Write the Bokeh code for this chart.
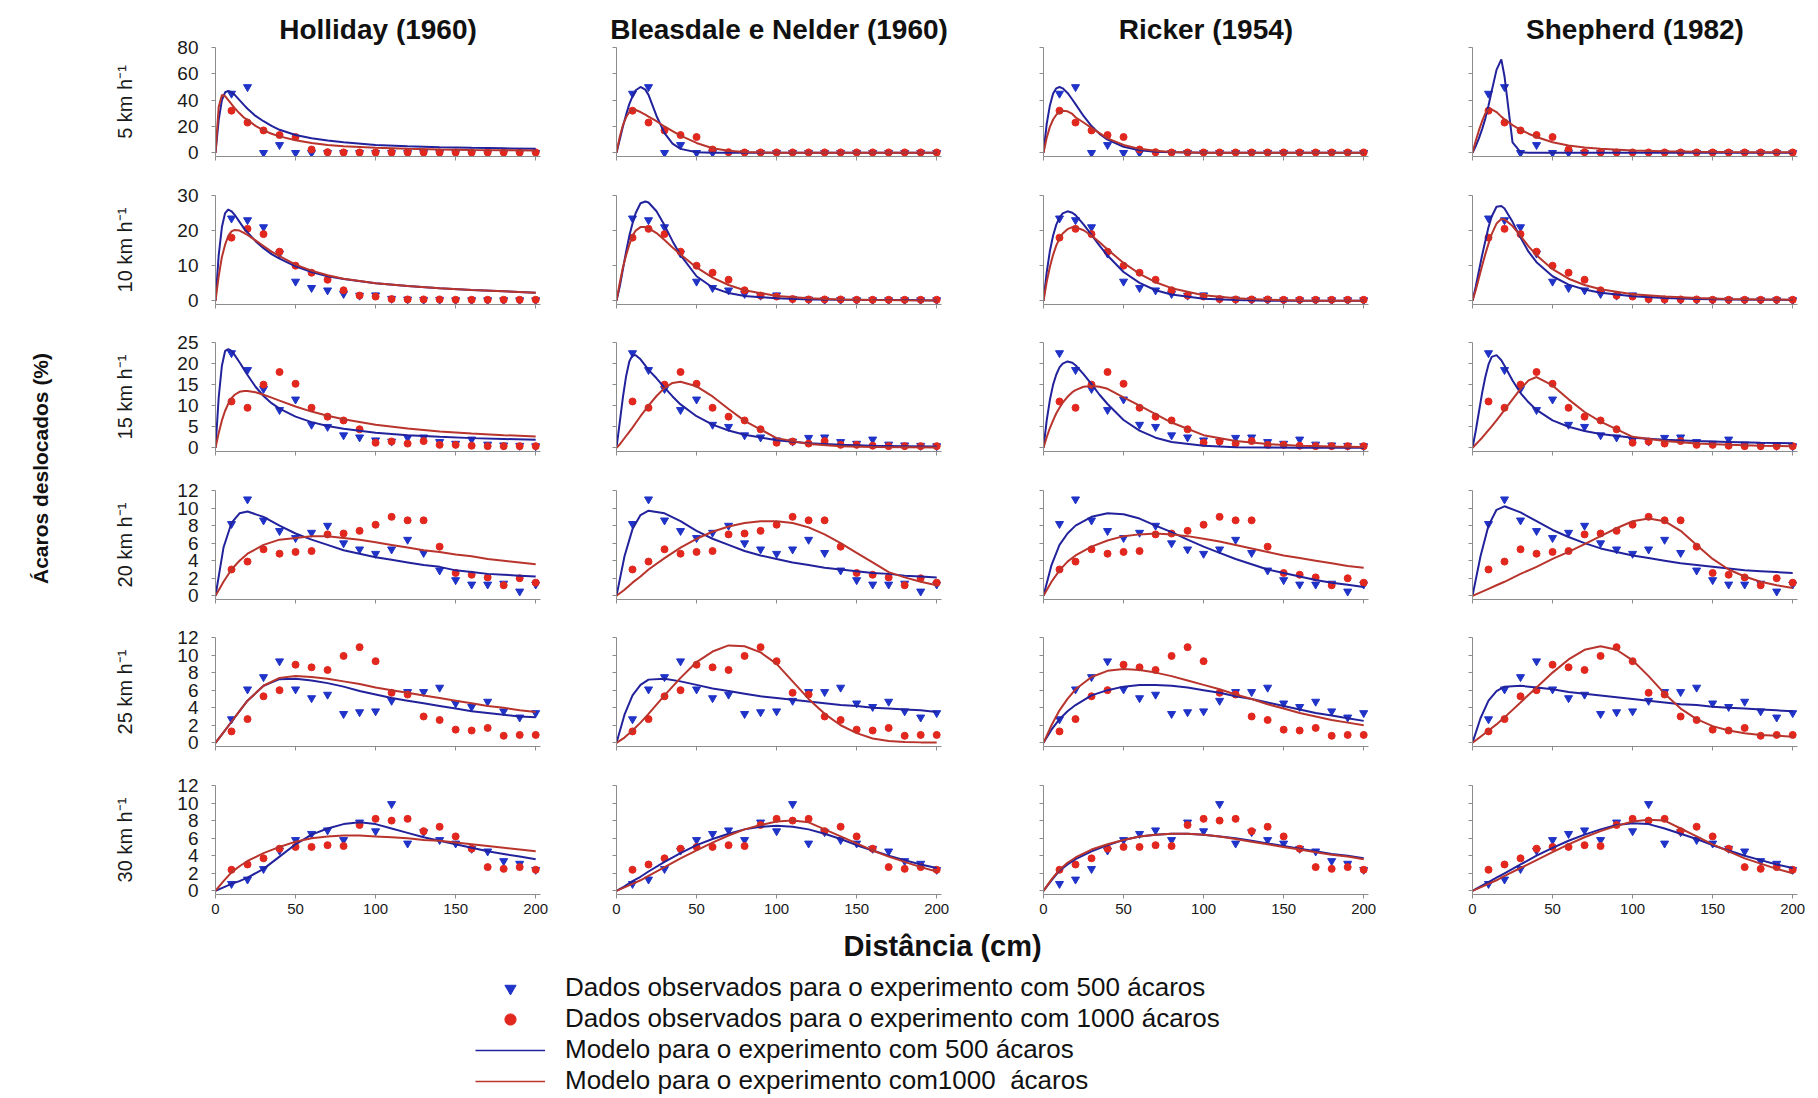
from math import pi
from bokeh.plotting import figure
from bokeh.layouts import row, column
from bokeh.models import FixedTicker, Label, Legend, LegendItem, Range1d
from bokeh.embed import file_html
from bokeh.resources import INLINE

# ---------------- data ----------------
models = ["Holliday (1960)", "Bleasdale e Nelder (1960)", "Ricker (1954)", "Shepherd (1982)"]
speeds = ["5 km h⁻¹", "10 km h⁻¹", "15 km h⁻¹", "20 km h⁻¹", "25 km h⁻¹", "30 km h⁻¹"]
y_max = [80, 30, 25, 12, 12, 12]
y_ticks_5 = [0, 20, 40, 60, 80]
y_ticks_10 = [0, 10, 20, 30]
y_ticks_15 = [0, 5, 10, 15, 20, 25]
y_ticks_12 = [0, 2, 4, 6, 8, 10, 12]
x_ticks = [0, 50, 100, 150, 200]

x_obs = [10, 20, 30, 40, 50, 60, 70, 80, 90, 100, 110, 120, 130, 140, 150, 160, 170, 180, 190, 200]
obs500_5 = [45, 50, 0, 6, 0, 0, 0, 0, 0, 0, 0, 0, 0, 0, 0, 0, 0, 0, 0, 0]
obs1000_5 = [32, 23, 17, 13.5, 12, 2.5, 0.5, 0.3, 0.3, 0.3, 0.3, 0.3, 0.3, 0.3, 0.3, 0.3, 0.3, 0.3, 0.3, 0.3]
obs500_10 = [23.5, 23, 21, 13.5, 5.5, 3.7, 3, 2, 1.5, 1.6, 0.6, 0.4, 0.3, 0.3, 0.2, 0.2, 0.2, 0.2, 0.2, 0.2]
obs1000_10 = [18, 20.5, 19, 14, 10, 8, 6, 3, 1.5, 1.2, 0.5, 0.4, 0.4, 0.4, 0.3, 0.3, 0.3, 0.3, 0.3, 0.3]
obs500_15 = [22.5, 18.5, 14, 9, 11.5, 5.5, 5, 3, 2.5, 1.8, 1.5, 2.4, 2.5, 1.4, 1.0, 2.0, 0.8, 0.6, 0.5, 0.4]
obs1000_15 = [11, 9.5, 15, 18, 15.2, 9.5, 7.4, 6.5, 4.4, 1.2, 1.5, 1.0, 1.6, 0.7, 0.7, 0.5, 0.4, 0.4, 0.4, 0.4]
obs500_20 = [8.2, 11, 8.6, 7.4, 6.6, 7.2, 8.0, 6.0, 5.3, 4.8, 5.3, 6.4, 4.9, 2.9, 1.8, 1.3, 1.3, 1.4, 0.5, 1.3]
obs1000_20 = [3.0, 3.9, 5.3, 4.8, 5.0, 5.1, 7.0, 7.1, 7.4, 8.1, 9.0, 8.6, 8.6, 5.6, 2.6, 2.4, 2.1, 1.2, 2.0, 1.5]
obs500_25 = [2.7, 6.1, 7.5, 9.3, 6.1, 5.1, 5.5, 3.3, 3.5, 3.6, 4.8, 5.8, 5.8, 6.3, 4.5, 4.1, 4.7, 3.6, 2.9, 3.4]
obs1000_25 = [1.3, 2.7, 5.3, 6.0, 8.9, 8.6, 8.3, 9.9, 10.9, 9.3, 5.7, 5.5, 3.0, 2.6, 1.5, 1.4, 1.7, 0.8, 0.9, 0.9]
obs500_30 = [0.8, 1.3, 2.5, 4.6, 5.8, 6.5, 6.9, 5.8, 7.8, 6.8, 9.9, 5.4, 6.7, 5.8, 5.4, 4.8, 4.5, 3.4, 3.1, 2.4]
obs1000_30 = [2.4, 3.0, 3.7, 4.8, 5.0, 5.0, 5.2, 5.1, 7.5, 8.2, 8.0, 8.2, 6.8, 7.3, 6.2, 4.8, 2.7, 2.5, 2.7, 2.4]

# model curves (order: Holliday, Bleasdale-Nelder, Ricker, Shepherd)
xc_fine = [0, 2, 4, 6, 8, 10, 12, 15, 18, 20, 25, 30, 35, 40, 50, 60, 70, 80, 100, 120, 140, 160, 180, 200]
xc_broad = [0, 5, 10, 15, 20, 30, 40, 50, 60, 70, 80, 90, 100, 110, 120, 130, 140, 150, 160, 170, 180, 190, 200]

fit500_5 = [
    [0, 25, 40, 46, 47, 46, 44, 40, 36, 33.5, 28, 24, 20.5, 17.5, 13.5, 11, 9.3, 8, 6, 5, 4.3, 3.8, 3.4, 3],
    [0, 10, 20, 29, 37, 43, 47.5, 50, 48, 44, 28, 15, 7, 3, 0.5, 0.1, 0, 0, 0, 0, 0, 0, 0, 0],
    [0, 22, 36, 45, 49, 50, 49, 45.5, 40.5, 37, 28, 20.3, 14.4, 10, 4.6, 2, 0.9, 0.4, 0.1, 0, 0, 0, 0, 0],
    [0, 5, 11, 18, 26, 36, 47, 63, 71, 58, 8, 0.5, 0, 0, 0, 0, 0, 0, 0, 0, 0, 0, 0, 0],
]
fit1000_5 = [
    [0, 35, 44, 43, 40, 37, 34, 30, 26.5, 25, 20.5, 17, 14.5, 12.5, 9.5, 7.5, 6, 5, 3.8, 3, 2.5, 2.1, 1.9, 1.7],
    [0, 12, 21, 27, 31, 32.5, 32.5, 31, 29, 27.5, 24, 20, 16.5, 13, 7.5, 3.5, 1.5, 0.6, 0.1, 0, 0, 0, 0, 0],
    [0, 11.5, 19.7, 25.3, 28.9, 31, 31.9, 31.5, 29.5, 27, 23, 19, 15, 11, 6, 3, 1.5, 0.7, 0.1, 0, 0, 0, 0, 0],
    [0, 9, 17, 24, 30, 33, 33, 31, 27.5, 25.5, 21, 17.5, 14.5, 12, 8, 5.5, 4, 3, 1.7, 1.1, 0.8, 0.6, 0.5, 0.4],
]
fit500_10 = [
    [0, 13, 21, 25, 26, 25.5, 24.5, 22.5, 20.5, 19.5, 17, 15, 13.3, 12, 9.8, 8.2, 7, 6.2, 5, 4.2, 3.6, 3.1, 2.7, 2.3],
    [0, 4, 9, 14, 18.5, 22, 25, 27.8, 28.3, 28, 25.5, 21.5, 17, 13, 7, 3.8, 2.2, 1.4, 0.7, 0.4, 0.3, 0.2, 0.2, 0.1],
    [0, 8.1, 14.2, 18.6, 21.7, 23.7, 24.9, 25.5, 25.1, 24.4, 21.8, 18.8, 15.7, 12.9, 8.2, 5.1, 3, 1.8, 0.6, 0.2, 0.05, 0, 0, 0],
    [0, 4, 8.5, 13, 17, 21, 24, 26.8, 27, 26.3, 22.5, 18, 14, 11, 7, 4.6, 3.2, 2.3, 1.3, 0.8, 0.55, 0.4, 0.3, 0.25],
]
fit1000_10 = [
    [0, 7, 12.5, 16, 18.5, 19.8, 20.2, 20, 19.3, 18.8, 17.2, 15.6, 14, 12.7, 10.3, 8.6, 7.3, 6.3, 5, 4.2, 3.6, 3.1, 2.7, 2.3],
    [0, 5, 9.5, 13, 16, 18.5, 20, 21, 21, 20.7, 19.3, 17.3, 15.2, 13.2, 9.5, 6.6, 4.5, 3, 1.4, 0.7, 0.4, 0.25, 0.15, 0.1],
    [0, 5.4, 9.7, 13.1, 15.8, 17.7, 19.2, 20.4, 21, 21, 20.1, 18.6, 16.7, 14.6, 10.8, 7.7, 5.3, 3.6, 1.6, 0.7, 0.3, 0.1, 0.04, 0],
    [0, 3, 6.5, 10, 13.3, 16.3, 19, 22, 23.3, 23.2, 21.3, 18.5, 15.5, 13, 9, 6.3, 4.5, 3.3, 1.9, 1.2, 0.8, 0.55, 0.4, 0.3],
]
fit500_15 = [
    [0, 12, 19.5, 23, 23.4, 23, 22, 20.3, 18.5, 17.3, 14.5, 12.3, 10.6, 9.3, 7.4, 6.1, 5.2, 4.5, 3.6, 3, 2.6, 2.3, 2.1, 1.9],
    [0, 6, 12, 17, 20.5, 22, 22, 21, 19.5, 18.5, 16.5, 14.3, 12.2, 10.3, 7.5, 5.5, 4.1, 3.1, 1.8, 1.1, 0.7, 0.5, 0.4, 0.3],
    [0, 6.5, 11.4, 15, 17.4, 19.1, 20, 20.5, 20.2, 19.6, 17.5, 15.1, 12.6, 10.4, 6.6, 4.1, 2.4, 1.4, 0.5, 0.15, 0.05, 0, 0, 0],
    [0, 4, 8.5, 13, 16.8, 19.8, 21.6, 22, 20.8, 19.5, 16, 13, 10.8, 9, 6.5, 5, 4, 3.3, 2.4, 1.9, 1.6, 1.4, 1.2, 1.1],
]
fit1000_15 = [
    [0, 3.5, 6.5, 8.8, 10.5, 11.8, 12.6, 13.3, 13.5, 13.5, 13.2, 12.6, 11.9, 11.2, 9.8, 8.6, 7.6, 6.8, 5.5, 4.6, 3.9, 3.4, 3, 2.7],
    [0, 0.8, 1.8, 2.8, 3.8, 4.8, 5.9, 7.5, 9, 10, 12.3, 14.2, 15.4, 15.7, 14.6, 12.2, 9.2, 6.4, 2.3, 0.9, 0.4, 0.2, 0.15, 0.1],
    [0, 2.5, 4.7, 6.5, 8.2, 9.5, 10.7, 12.1, 13.2, 13.7, 14.5, 14.7, 14.5, 14, 12, 10, 8, 6, 3, 1.6, 0.9, 0.5, 0.3, 0.2],
    [0, 0.8, 1.6, 2.4, 3.3, 4.2, 5.1, 6.5, 8, 9, 11.5, 14, 16, 16.8, 14.8, 11.5, 8.5, 6.2, 2.6, 1.6, 1, 0.7, 0.5, 0.4],
]
fit500_20 = [
    [0, 5.5, 8.3, 9.4, 9.6, 9.0, 8.0, 7.1, 6.4, 5.8, 5.2, 4.8, 4.4, 4.1, 3.8, 3.5, 3.3, 2.9, 2.7, 2.5, 2.4, 2.3, 2.2],
    [0, 4.5, 7.6, 9.2, 9.7, 9.4, 8.5, 7.4, 6.5, 5.8, 5.1, 4.6, 4.2, 3.8, 3.5, 3.2, 3.0, 2.8, 2.6, 2.5, 2.3, 2.2, 2.1],
    [0, 3.5, 5.8, 7.1, 8.0, 9.0, 9.4, 9.3, 8.8, 8.0, 7.25, 6.4, 5.6, 4.9, 4.2, 3.6, 3.0, 2.6, 2.2, 1.8, 1.5, 1.25, 1.0],
    [0, 4.5, 8, 9.8, 10.2, 9.5, 8.5, 7.5, 6.7, 6.0, 5.4, 5.0, 4.6, 4.3, 4.0, 3.7, 3.5, 3.3, 3.1, 2.9, 2.8, 2.7, 2.6],
]
fit1000_20 = [
    [0, 1.6, 3.0, 4.0, 4.8, 5.8, 6.4, 6.6, 6.8, 6.8, 6.6, 6.4, 6.1, 5.8, 5.5, 5.2, 5.0, 4.7, 4.5, 4.2, 4.0, 3.8, 3.6],
    [0, 0.7, 1.5, 2.2, 3.0, 4.3, 5.5, 6.5, 7.3, 7.9, 8.3, 8.5, 8.5, 8.3, 7.8, 7.0, 6.0, 4.9, 3.8, 2.7, 2.1, 1.6, 1.2],
    [0, 1.6, 2.9, 3.9, 4.6, 5.6, 6.3, 6.8, 7.0, 7.1, 7.0, 6.8, 6.5, 6.2, 5.8, 5.4, 5.0, 4.6, 4.3, 4.0, 3.7, 3.4, 3.2],
    [0, 0.4, 0.8, 1.2, 1.6, 2.5, 3.3, 4.2, 5.0, 5.9, 6.8, 7.7, 8.5, 8.8, 8.5, 7.4, 5.8, 4.2, 3.0, 2.2, 1.6, 1.2, 0.9],
]
fit500_25 = [
    [0, 1.2, 2.4, 3.6, 4.8, 6.5, 7.25, 7.3, 7.1, 6.8, 6.4, 5.9, 5.5, 5.1, 4.8, 4.5, 4.2, 3.9, 3.6, 3.4, 3.2, 3.0, 2.9],
    [0, 3.2, 5.4, 6.6, 7.2, 7.3, 7.0, 6.6, 6.2, 5.9, 5.6, 5.3, 5.1, 4.9, 4.7, 4.5, 4.3, 4.2, 4.0, 3.9, 3.8, 3.7, 3.5],
    [0, 1.5, 2.7, 3.6, 4.3, 5.4, 6.0, 6.4, 6.6, 6.6, 6.5, 6.3, 6.0, 5.7, 5.3, 5.0, 4.6, 4.2, 3.8, 3.4, 3.1, 2.8, 2.5],
    [0, 2.8, 4.8, 5.9, 6.4, 6.5, 6.3, 6.1, 5.8, 5.6, 5.4, 5.2, 5.0, 4.8, 4.6, 4.4, 4.3, 4.1, 4.0, 3.9, 3.8, 3.7, 3.6],
]
fit1000_25 = [
    [0, 1.2, 2.4, 3.6, 4.8, 6.5, 7.4, 7.6, 7.5, 7.3, 7.0, 6.7, 6.3, 6.0, 5.7, 5.4, 5.1, 4.8, 4.5, 4.2, 4.0, 3.7, 3.5],
    [0, 0.6, 1.4, 2.3, 3.3, 5.4, 7.4, 9.2, 10.4, 11.1, 11.0, 10.3, 9.0, 7.0, 5.0, 3.3, 2.0, 1.1, 0.5, 0.2, 0.1, 0.05, 0.03],
    [0, 2.0, 3.7, 5.0, 6.1, 7.5, 8.2, 8.4, 8.3, 8.0, 7.6, 7.1, 6.6, 6.1, 5.5, 5.0, 4.4, 3.9, 3.4, 3.0, 2.6, 2.3, 2.0],
    [0, 0.7, 1.4, 2.1, 2.9, 4.6, 6.3, 8.0, 9.5, 10.6, 11.0, 10.6, 9.4, 7.6, 5.6, 3.9, 2.7, 1.9, 1.4, 1.1, 0.9, 0.8, 0.7],
]
fit500_30 = [
    [0, 0.4, 0.8, 1.1, 1.5, 2.5, 3.9, 5.3, 6.4, 7.1, 7.6, 7.8, 7.6, 7.1, 6.6, 6.1, 5.7, 5.3, 4.9, 4.5, 4.2, 3.9, 3.6],
    [0, 0.5, 1.1, 1.6, 2.2, 3.3, 4.3, 5.2, 5.9, 6.5, 7.0, 7.3, 7.4, 7.3, 7.0, 6.5, 5.9, 5.2, 4.6, 4.0, 3.5, 3.0, 2.6],
    [0, 1.2, 2.3, 3.0, 3.6, 4.5, 5.2, 5.8, 6.2, 6.4, 6.5, 6.5, 6.4, 6.2, 6.0, 5.7, 5.4, 5.1, 4.8, 4.5, 4.2, 4.0, 3.7],
    [0, 0.5, 1.0, 1.5, 2.0, 3.0, 4.0, 4.9, 5.7, 6.4, 7.0, 7.5, 7.7, 7.6, 7.1, 6.5, 5.9, 5.2, 4.6, 4.0, 3.5, 3.0, 2.6],
]
fit1000_30 = [
    [0, 1.1, 2.1, 2.8, 3.4, 4.3, 5.0, 5.6, 6.0, 6.2, 6.3, 6.3, 6.2, 6.1, 6.0, 5.8, 5.7, 5.5, 5.3, 5.1, 4.9, 4.7, 4.5],
    [0, 0.4, 0.8, 1.2, 1.7, 2.7, 3.7, 4.6, 5.5, 6.3, 7.0, 7.5, 7.9, 8.0, 7.8, 7.0, 6.2, 5.4, 4.6, 3.9, 3.3, 2.7, 2.2],
    [0, 1.3, 2.4, 3.2, 3.8, 4.7, 5.3, 5.8, 6.2, 6.4, 6.5, 6.5, 6.4, 6.2, 5.9, 5.6, 5.3, 5.0, 4.7, 4.4, 4.1, 3.9, 3.6],
    [0, 0.4, 0.8, 1.2, 1.7, 2.6, 3.5, 4.4, 5.3, 6.1, 6.8, 7.4, 7.9, 8.1, 8.0, 7.1, 6.2, 5.3, 4.5, 3.7, 3.1, 2.5, 2.0],
]

legend_labels = [
    "Dados observados para o experimento com 500 ácaros",
    "Dados observados para o experimento com 1000 ácaros",
    "Modelo para o experimento com 500 ácaros",
    "Modelo para o experimento com1000  ácaros",
]

rows_data = [
    (obs500_5, obs1000_5, fit500_5, fit1000_5, xc_fine, y_ticks_5),
    (obs500_10, obs1000_10, fit500_10, fit1000_10, xc_fine, y_ticks_10),
    (obs500_15, obs1000_15, fit500_15, fit1000_15, xc_fine, y_ticks_15),
    (obs500_20, obs1000_20, fit500_20, fit1000_20, xc_broad, y_ticks_12),
    (obs500_25, obs1000_25, fit500_25, fit1000_25, xc_broad, y_ticks_12),
    (obs500_30, obs1000_30, fit500_30, fit1000_30, xc_broad, y_ticks_12),
]

# ---------------- style ----------------
FONT = "Liberation Sans"
BLUE_LINE = "#22229c"
RED_LINE = "#b8342c"
BLUE_MK = "#1f33c8"
RED_MK = "#e2281e"
AXIS_C = "#8c8c8c"

col_left = [135, 66, 92, 94]
FRAME_W = 325
FRAME_H = 109
row_top = [47, 19, 19, 19, 19, 19]
row_bottom = [20, 19, 20, 19, 20, 34]


def make_panel(r, c):
    o500, o1000, f500, f1000, xc, yt = rows_data[r]
    ym = y_max[r]
    left = col_left[c]
    p = figure(width=left + FRAME_W + 10, height=row_top[r] + FRAME_H + row_bottom[r],
               x_range=Range1d(0, 203), y_range=Range1d(-0.035 * ym, ym),
               output_backend="svg", toolbar_location=None,
               min_border_left=left, min_border_right=10,
               min_border_top=row_top[r], min_border_bottom=row_bottom[r])
    p.outline_line_color = None
    p.xgrid.visible = False
    p.ygrid.visible = False
    p.background_fill_color = "white"
    p.border_fill_color = "white"

    for ax in (p.xaxis, p.yaxis):
        ax.axis_line_color = AXIS_C
        ax.major_tick_line_color = AXIS_C
        ax.minor_tick_line_color = None
        ax.major_tick_out = 4
        ax.major_tick_in = 0
        ax.major_label_text_font = FONT
        ax.major_label_text_color = "#1a1a1a"

    p.xaxis.ticker = FixedTicker(ticks=x_ticks)
    p.yaxis.ticker = FixedTicker(ticks=yt)

    if r == 5:
        p.xaxis.major_label_text_font_size = "15px"
        p.xaxis.major_label_standoff = 5
    else:
        p.xaxis.major_label_overrides = {t: "" for t in x_ticks}

    if c == 0:
        p.yaxis.major_label_text_font_size = "19px"
        p.yaxis.major_label_standoff = 13
        p.yaxis.axis_label = speeds[r]
        p.yaxis.axis_label_text_font = FONT
        p.yaxis.axis_label_text_font_size = "20px"
        p.yaxis.axis_label_text_font_style = "normal"
        p.yaxis.axis_label_text_color = "#1a1a1a"
        p.yaxis.axis_label_standoff = 38
    else:
        p.yaxis.major_label_overrides = {t: "" for t in yt}

    if r == 0:
        p.title.text = models[c]
        p.title.align = "center"
        p.title.text_font = FONT
        p.title.text_font_size = "28px"
        p.title.text_font_style = "bold"
        p.title.text_color = "#111111"
        p.title.standoff = 6

    p.scatter(x_obs, o500, marker="inverted_triangle", size=8, color=BLUE_MK)
    p.scatter(x_obs, o1000, marker="circle", size=7, color=RED_MK)
    p.line(xc, f500[c], line_color=BLUE_LINE, line_width=2)
    p.line(xc, f1000[c], line_color=RED_LINE, line_width=2)
    return p


columns = []
for c in range(4):
    columns.append(column(*[make_panel(r, c) for r in range(6)], spacing=0))

grid_h = sum(row_top[r] + FRAME_H + row_bottom[r] for r in range(6))

# overall y-axis title
ylab = figure(width=80, height=grid_h, x_range=Range1d(0, 1), y_range=Range1d(0, grid_h),
              output_backend="svg", toolbar_location=None, x_axis_type=None, y_axis_type=None,
              min_border=0, min_border_left=0, min_border_right=0, min_border_top=0, min_border_bottom=0)
ylab.outline_line_color = None
ylab.xgrid.visible = False
ylab.ygrid.visible = False
ylab.add_layout(Label(x=0.5, y=grid_h - 468, text="Ácaros deslocados (%)", angle=pi / 2,
                      text_align="center", text_baseline="middle", text_font=FONT,
                      text_font_size="21px", text_font_style="bold", text_color="#111111"))

# footer: x title and legend
foot_h = 1098 - grid_h
foot = figure(width=1818, height=foot_h, x_range=Range1d(0, 1818), y_range=Range1d(0, foot_h),
              output_backend="svg", toolbar_location=None, x_axis_type=None, y_axis_type=None,
              min_border=0, min_border_left=0, min_border_right=0, min_border_top=0, min_border_bottom=0)
foot.outline_line_color = None
foot.xgrid.visible = False
foot.ygrid.visible = False
foot.add_layout(Label(x=942, y=foot_h - 17, text="Distância (cm)", text_align="center",
                      text_baseline="middle", text_font=FONT, text_font_size="29px",
                      text_font_style="bold", text_color="#111111"))

# legend proxies (NaN data: nothing drawn in the frame, only the legend glyphs)
nan = float("nan")
r1 = foot.scatter([nan], [nan], marker="inverted_triangle", size=13, color=BLUE_MK)
r2 = foot.scatter([nan], [nan], marker="circle", size=12, color=RED_MK)
r3 = foot.line([nan, nan], [nan, nan], line_color=BLUE_LINE, line_width=1.5)
r4 = foot.line([nan, nan], [nan, nan], line_color=RED_LINE, line_width=1.5)
legend = Legend(items=[LegendItem(label=legend_labels[0], renderers=[r1]),
                       LegendItem(label=legend_labels[1], renderers=[r2]),
                       LegendItem(label=legend_labels[2], renderers=[r3]),
                       LegendItem(label=legend_labels[3], renderers=[r4])],
                location=(475, 2), orientation="vertical", glyph_width=70, glyph_height=28,
                label_height=28, spacing=0, padding=0, margin=0, label_standoff=20,
                border_line_color=None, background_fill_alpha=0,
                label_text_font=FONT, label_text_font_size="26px", label_text_color="#111111")
foot.add_layout(legend)

layout = column(row(ylab, *columns, spacing=0), foot, spacing=0)

with open("out.html", "w") as f:
    f.write(file_html(layout, INLINE))
